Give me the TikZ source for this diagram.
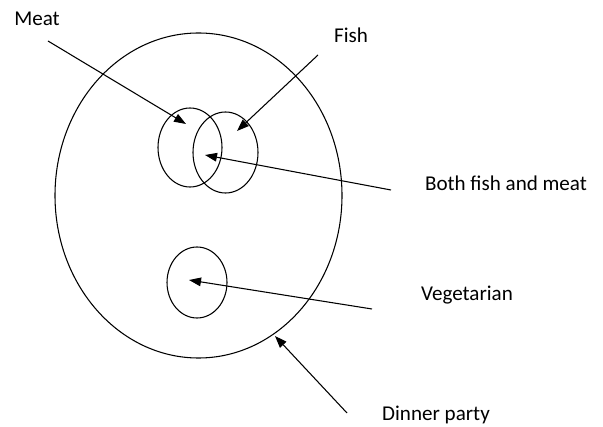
\documentclass[tikz,border=0pt]{standalone}
\usepackage{fontspec}
\setmainfont{Carlito}
\usetikzlibrary{arrows.meta,shapes.geometric}

\begin{document}
\begin{tikzpicture}[x=0.75pt,y=-0.75pt,>={Triangle[length=9pt,width=6.5pt]},
 set/.style={draw,ellipse,line width=0.8pt,inner sep=0pt},
 lbl/.style={font=\fontsize{15.8}{18}\selectfont,inner sep=0pt},
 arr/.style={->,line width=0.8pt}]
\useasboundingbox (0,0) rectangle (603,427);
% sets
\node[set,minimum width=215.25pt,minimum height=243.75pt] (party) at (198.5,195.5) {};
\node[set,minimum width=48pt,minimum height=59.25pt] (meat) at (190,147.5) {};
\node[set,minimum width=48.75pt,minimum height=60.75pt] (fish) at (225.5,152.5) {};
\node[set,minimum width=45pt,minimum height=53.25pt] (veg) at (197,282.5) {};
% labels
\node[lbl] (meatlbl) at (37,19) {Meat};
\node[lbl] (fishlbl) at (351,35) {Fish};
\node[lbl] (bothlbl) at (506,183) {Both fish and meat};
\node[lbl] (veglbl) at (467,295) {Vegetarian};
\node[lbl] (partylbl) at (436,415) {Dinner party};
% arrow ends
\coordinate (meatfrom) at (48,41);
\coordinate (meatto) at (186,124);
\coordinate (fishfrom) at (318,55);
\coordinate (fishto) at (237,131);
\coordinate (bothfrom) at (391,190);
\coordinate (bothto) at (205,155);
\coordinate (vegfrom) at (372,309);
\coordinate (vegto) at (189,280);
\coordinate (partyfrom) at (347,413);
\coordinate (partyto) at (275,336);
\draw[arr] (meatfrom)--(meatto);
\draw[arr] (fishfrom)--(fishto);
\draw[arr] (bothfrom)--(bothto);
\draw[arr] (vegfrom)--(vegto);
\draw[arr] (partyfrom)--(partyto);
\end{tikzpicture}
\end{document}
